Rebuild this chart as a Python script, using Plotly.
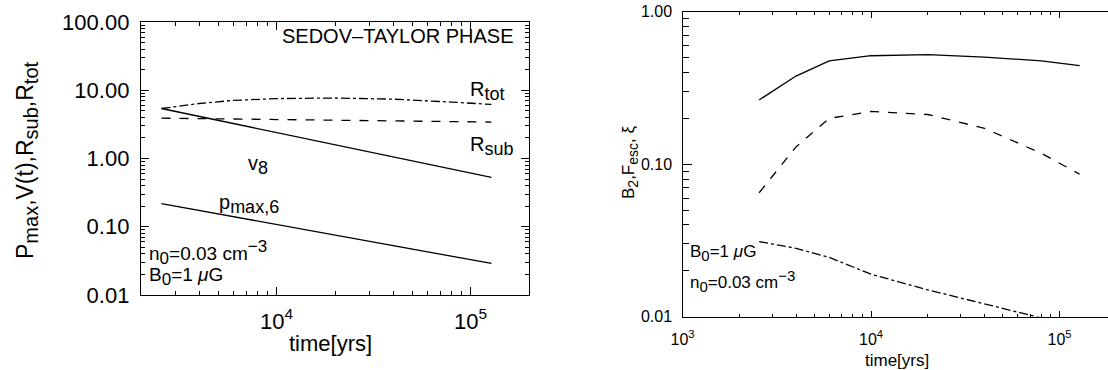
import plotly.graph_objects as go

W, H = 1108, 370

# ---------------- data ----------------
time_left = [2550, 4000, 6000, 10000, 20000, 40000, 80000, 128000]
R_tot = [5.4, 6.4, 7.1, 7.55, 7.7, 7.4, 6.7, 6.2]
R_sub = [3.9, 3.85, 3.8, 3.75, 3.65, 3.55, 3.47, 3.42]
V_8 = [5.4, 4.14, 3.25, 2.42, 1.59, 1.055, 0.70, 0.53]
p_max6 = [0.218, 0.173, 0.140, 0.107, 0.0755, 0.0528, 0.037, 0.029]

time_right = [2550, 4000, 6000, 10000, 20000, 40000, 80000, 128000]
B_2 = [0.264, 0.379, 0.476, 0.515, 0.523, 0.505, 0.476, 0.443]
F_esc = [0.065, 0.130, 0.200, 0.222, 0.212, 0.172, 0.118, 0.086]
xi = [0.0311, 0.0281, 0.0245, 0.019, 0.015, 0.0121, 0.0097, 0.0085]

left_yticks = [0.01, 0.1, 1, 10, 100]
left_yticktext = ["0.01", "0.10", "1.00", "10.00", "100.00"]
left_xticks = [1e4, 1e5]
left_xticktext = ["10<sup>4</sup>", "10<sup>5</sup>"]
right_yticks = [0.01, 0.1, 1]
right_yticktext = ["0.01", "0.10", "1.00"]
right_xticks = [1e3, 1e4, 1e5]
right_xticktext = ["10<sup>3</sup>", "10<sup>4</sup>", "10<sup>5</sup>"]

FONT = "Liberation Sans, Arial, sans-serif"

def px(x):
    return x / W

def py(y):
    return 1 - y / H

def sub(t, size):
    return f"<sub><span style='font-size:{size}px'>{t}</span></sub>"

def sup(t, size):
    return f"<sup><span style='font-size:{size}px'>{t}</span></sup>"

fig = go.Figure()

line = dict(color="black", width=1.3)
fig.add_trace(go.Scatter(x=time_left, y=R_tot, mode="lines", line=dict(line, dash="dashdot"), xaxis="x", yaxis="y"))
fig.add_trace(go.Scatter(x=time_left, y=R_sub, mode="lines", line=dict(line, dash="dash"), xaxis="x", yaxis="y"))
fig.add_trace(go.Scatter(x=time_left, y=V_8, mode="lines", line=line, xaxis="x", yaxis="y"))
fig.add_trace(go.Scatter(x=time_left, y=p_max6, mode="lines", line=line, xaxis="x", yaxis="y"))

fig.add_trace(go.Scatter(x=time_right, y=B_2, mode="lines", line=line, xaxis="x2", yaxis="y2"))
fig.add_trace(go.Scatter(x=time_right, y=F_esc, mode="lines", line=dict(line, dash="dash"), xaxis="x2", yaxis="y2"))
fig.add_trace(go.Scatter(x=time_right, y=xi, mode="lines", line=dict(line, dash="dashdot"), xaxis="x2", yaxis="y2"))

def axis(domain, rng, anchor, mirror, tickvals, ticktext, ticklen, minorlen, size, standoff):
    return dict(type="log", showgrid=False, zeroline=False, showline=True, linecolor="black",
                linewidth=1.4, ticks="inside", tickcolor="black", tickwidth=1,
                automargin=False,
                domain=domain, range=rng, anchor=anchor, mirror=mirror,
                tickmode="array", tickvals=tickvals, ticktext=ticktext, ticklen=ticklen,
                ticklabelstandoff=standoff,
                tickfont=dict(size=size, family=FONT, color="black"),
                minor=dict(ticks="inside", ticklen=minorlen, tickcolor="black", tickwidth=1,
                           dtick="D1", showgrid=False))

fig.update_layout(
    template="none",
    width=W, height=H, margin=dict(l=0, r=0, t=0, b=0, pad=0),
    paper_bgcolor="white", plot_bgcolor="white", showlegend=False,
    font=dict(family=FONT, color="black"),
    xaxis=axis([px(141), px(529)], [3.301, 5.301], "y", "allticks",
               left_xticks, left_xticktext, 8, 4, 22, 6),
    yaxis=axis([py(295), py(22)], [-2, 2], "x", "allticks",
               left_yticks, left_yticktext, 8, 4, 22, 6),
    xaxis2=axis([px(682.5), 1.0], [3, 5.257], "y2", "allticks",
                right_xticks, right_xticktext, 6, 3, 16, 8),
    yaxis2=axis([py(316.7), py(11.8)], [-2, 0], "x2", False,
                right_yticks, right_yticktext, 9, 6, 16, 6),
)

def ann(text, x, y, size, xanchor="left", yanchor="middle", angle=0):
    fig.add_annotation(text=text, x=px(x), y=py(y), xref="paper", yref="paper",
                       showarrow=False, xanchor=xanchor, yanchor=yanchor, textangle=angle,
                       font=dict(size=size, family=FONT, color="black"))

# left panel labels
ann("SEDOV–TAYLOR PHASE", 516, 36, 20, xanchor="right")
ann("R" + sub("tot", 18), 468, 91, 20)
ann("R" + sub("sub", 18), 468, 146, 20)
ann("v" + sub("8", 18), 246, 165, 20)
ann("p" + sub("max,6", 18), 217, 204, 20)
ann("n" + sub("0", 17) + "=0.03 cm" + sup("−3", 17), 147, 252, 19)
ann("B" + sub("0", 17) + "=1 <i>μ</i>G", 147, 276, 19)
ann("time[yrs]", 330, 343, 22, xanchor="center")
ann("P" + sub("max", 20) + ",V(t),R" + sub("sub", 20) + ",R" + sub("tot", 20), 27, 160, 23,
    xanchor="center", angle=-90)

# right panel labels
ann("B" + sub("0", 15) + "=1 <i>μ</i>G", 688, 253, 17)
ann("n" + sub("0", 15) + "=0.03 cm" + sup("−3", 15), 688, 281, 17)
ann("time[yrs]", 897, 360, 17, xanchor="center")
ann("B" + sub("2", 14) + ",F" + sub("esc", 14) + ", ξ", 630, 163, 17, xanchor="center", angle=-90)

fig.write_html("out.html", config={"displayModeBar": False},
               post_script="document.body.style.margin='0px';")
